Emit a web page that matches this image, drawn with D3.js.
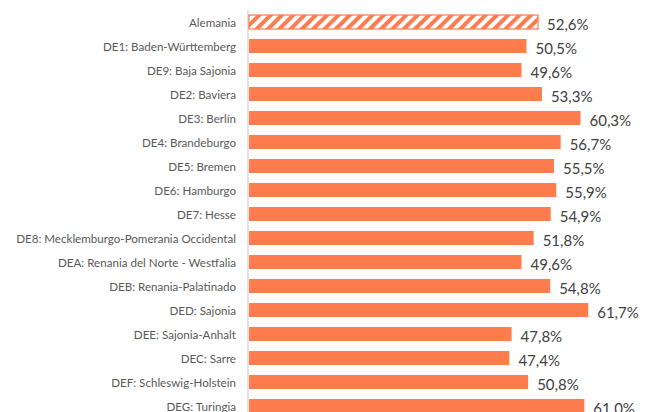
<!DOCTYPE html>
<html>
<head>
<meta charset="utf-8">
<script src="https://cdn.jsdelivr.net/npm/d3@7"></script>
<style>
  body { margin: 0; background: #fff; }
  svg { display: block; }
</style>
</head>
<body>
<div id="chart"></div>
<script>
// regions (top to bottom) and their share, in %
const regions = [
    "Alemania",
    "DE1: Baden-Württemberg",
    "DE9: Baja Sajonia",
    "DE2: Baviera",
    "DE3: Berlín",
    "DE4: Brandeburgo",
    "DE5: Bremen",
    "DE6: Hamburgo",
    "DE7: Hesse",
    "DE8: Mecklemburgo-Pomerania Occidental",
    "DEA: Renania del Norte - Westfalia",
    "DEB: Renania-Palatinado",
    "DED: Sajonia",
    "DEE: Sajonia-Anhalt",
    "DEC: Sarre",
    "DEF: Schleswig-Holstein",
    "DEG: Turingia"
];
const values = [52.6, 50.5, 49.6, 53.3, 60.3, 56.7, 55.5, 55.9, 54.9, 51.8, 49.6, 54.8, 61.7, 47.8, 47.4, 50.8, 61.0];
const totalLabel = "Alemania";

const data = regions.map((r, i) => ({ region: r, value: values[i] }));

const W = 648, H = 412;
const color = "#FF7C4E";
const fmt = v => d3.format(".1f")(v).replace(".", ",") + "%";

const svg = d3.select("#chart")
    .append("svg")
    .attr("width", W)
    .attr("height", H);

// hatch pattern for the national total
const defs = svg.append("defs");
const pat = defs.append("pattern")
    .attr("id", "hatch")
    .attr("patternUnits", "userSpaceOnUse")
    .attr("width", 8)
    .attr("height", 8)
    .attr("patternTransform", "rotate(45)");
pat.append("rect").attr("width", 8).attr("height", 8).attr("fill", "#fff");
pat.append("rect").attr("width", 4).attr("height", 8).attr("fill", color);

const x = d3.scaleLinear()
    .domain([0, 70])
    .range([248, 634]);

const y = d3.scaleBand()
    .domain(regions)
    .range([10, 418])
    .paddingInner(10 / 24)
    .paddingOuter(5 / 24);

// axis line
svg.append("line")
    .attr("x1", x(0)).attr("x2", x(0))
    .attr("y1", 10.5).attr("y2", H)
    .attr("stroke", "#d9d9d9")
    .attr("stroke-width", 1.5);

// bars
svg.append("g")
    .selectAll("rect")
    .data(data)
    .join("rect")
    .attr("x", x(0) + 1)
    .attr("y", d => y(d.region))
    .attr("width", d => x(d.value) - x(0) - 1)
    .attr("height", y.bandwidth())
    .attr("fill", d => d.region === totalLabel ? "url(#hatch)" : color)
    .attr("stroke", d => d.region === totalLabel ? color : "none")
    .attr("stroke-width", 1.2);

// category labels
svg.append("g")
    .selectAll("text")
    .data(data)
    .join("text")
    .attr("x", 236)
    .attr("y", d => y(d.region) + y.bandwidth() / 2)
    .attr("text-anchor", "end")
    .attr("dominant-baseline", "central")
    .style("font-family", "Lato, 'Open Sans', sans-serif")
    .style("font-size", "11.6px")
    .attr("fill", "#595959")
    .text(d => d.region);

// value labels
svg.append("g")
    .selectAll("text")
    .data(data)
    .join("text")
    .attr("x", d => x(d.value) + 9)
    .attr("y", d => y(d.region) + y.bandwidth() / 2 + 1.5)
    .attr("dominant-baseline", "central")
    .style("font-family", "Lato, 'Open Sans', sans-serif")
    .style("font-size", "15px")
    .attr("fill", "#404040")
    .text(d => fmt(d.value));
</script>
</body>
</html>
